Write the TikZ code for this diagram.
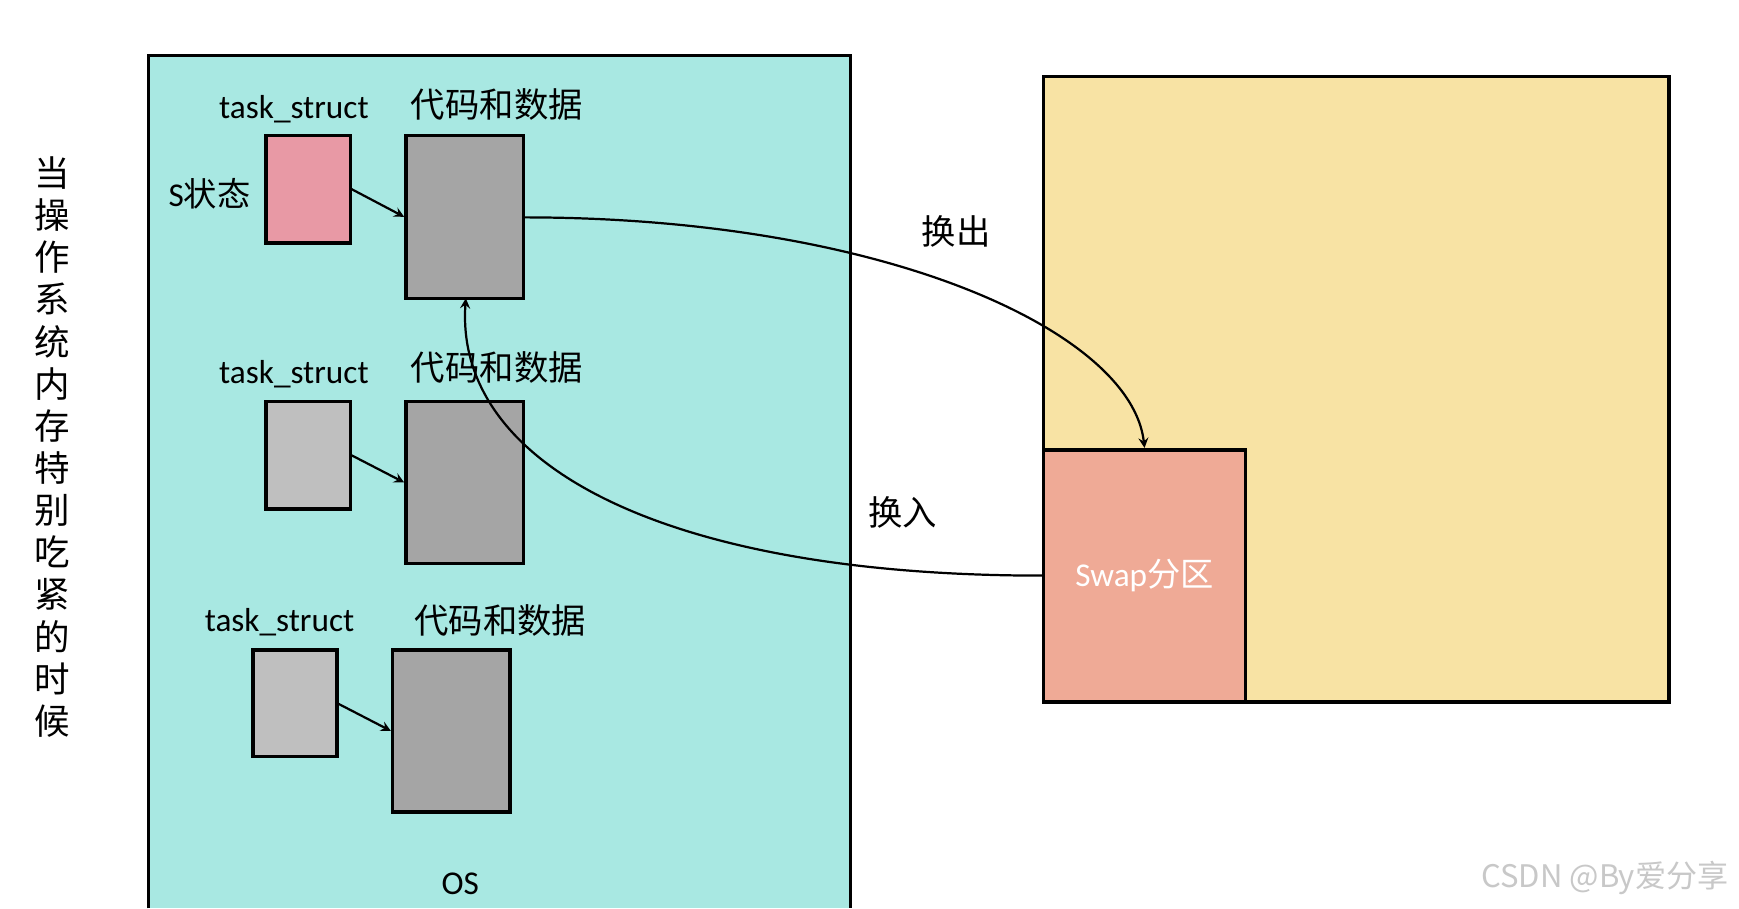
\documentclass[tikz,border=0pt]{standalone}
\usepackage{fontspec}
\setmainfont{Carlito}
\newfontfamily\cjk{Noto Sans CJK SC}
\begin{document}
\begin{tikzpicture}[x=0.5pt,y=-0.5pt,
  frame/.style={draw=black,line width=1.6pt},
  tbox/.style={frame},
  lbl/.style={font=\fontsize{15}{17}\selectfont},
  clbl/.style={font=\cjk\fontsize{15.5}{17}\selectfont},
  conn/.style={-stealth,line width=1pt}]
\useasboundingbox (0,0) rectangle (1568,819);
\fill[white] (0,0) rectangle (1568,819);
\path[frame,fill={rgb,255:red,168;green,232;blue,226}] (134,819) -- (134,50) -- (767,50) -- (767,819);
\node[frame,fill={rgb,255:red,248;green,227;blue,164},minimum width=282pt,minimum height=282pt,inner sep=0] (mem) at (1223,351) {};
\node[frame,fill={rgb,255:red,239;green,170;blue,150},minimum width=91pt,minimum height=113.5pt,inner sep=0,text=white,font=\fontsize{15}{17}\selectfont] (swap) at (1032,519) {Swap{\cjk 分区}};
\node[font=\cjk\fontsize{16}{19}\selectfont,align=center,text width=20pt,inner sep=0] (vt) at (47,403) {当\\[0pt]操\\[0pt]作\\[0pt]系\\[0pt]统\\[0pt]内\\[0pt]存\\[0pt]特\\[0pt]别\\[0pt]吃\\[0pt]紧\\[0pt]的\\[0pt]时\\[0pt]候};
% group 1
\node[tbox,fill={rgb,255:red,232;green,153;blue,165},minimum width=38pt,minimum height=48.5pt,inner sep=0] (t1) at (278,170.5) {};
\node[tbox,fill={rgb,255:red,165;green,165;blue,165},minimum width=53pt,minimum height=73.5pt,inner sep=0] (c1) at (419,195.5) {};
\node[lbl] (tl1) at (265,98) {task\_struct};
\node[clbl] (cl1) at (448,94) {代码和数据};
\node[lbl] (s1) at (189,175) {S{\cjk 状态}};
% group 2
\node[tbox,fill={rgb,255:red,191;green,191;blue,191},minimum width=38pt,minimum height=48.5pt,inner sep=0] (t2) at (278,410.5) {};
\node[tbox,fill={rgb,255:red,165;green,165;blue,165},minimum width=53pt,minimum height=73pt,inner sep=0] (c2) at (419,435) {};
\node[lbl] (tl2) at (265,337) {task\_struct};
\node[clbl] (cl2) at (448,331) {代码和数据};
% group 3
\node[tbox,fill={rgb,255:red,191;green,191;blue,191},minimum width=38pt,minimum height=48pt,inner sep=0] (t3) at (266,634) {};
\node[tbox,fill={rgb,255:red,165;green,165;blue,165},minimum width=53pt,minimum height=73pt,inner sep=0] (c3) at (407,659) {};
\node[lbl] (tl3) at (252,561) {task\_struct};
\node[clbl] (cl3) at (451,559) {代码和数据};
\draw[conn] (316,170) -- (c1.west);
\draw[conn] (316,410) -- (c2.west);
\draw[conn] (304,634) -- (c3.west);
\coordinate (outs) at (472,196);
\coordinate (ine) at (420,269);
\draw[conn] (outs) .. controls (800,196) and (1020,300) .. (swap.north);
\draw[conn] (swap.west) .. controls (600,519) and (410,420) .. (ine);
\node[clbl] (ho) at (862,209) {换出};
\node[clbl] (hi) at (814,462) {换入};
\node[lbl] (os) at (415,797) {OS};
\node[font=\cjk\fontsize{14}{16}\selectfont,text={rgb,255:red,200;green,200;blue,200}] (wm) at (1447,792) {CSDN @By爱分享};
\end{tikzpicture}
\end{document}
